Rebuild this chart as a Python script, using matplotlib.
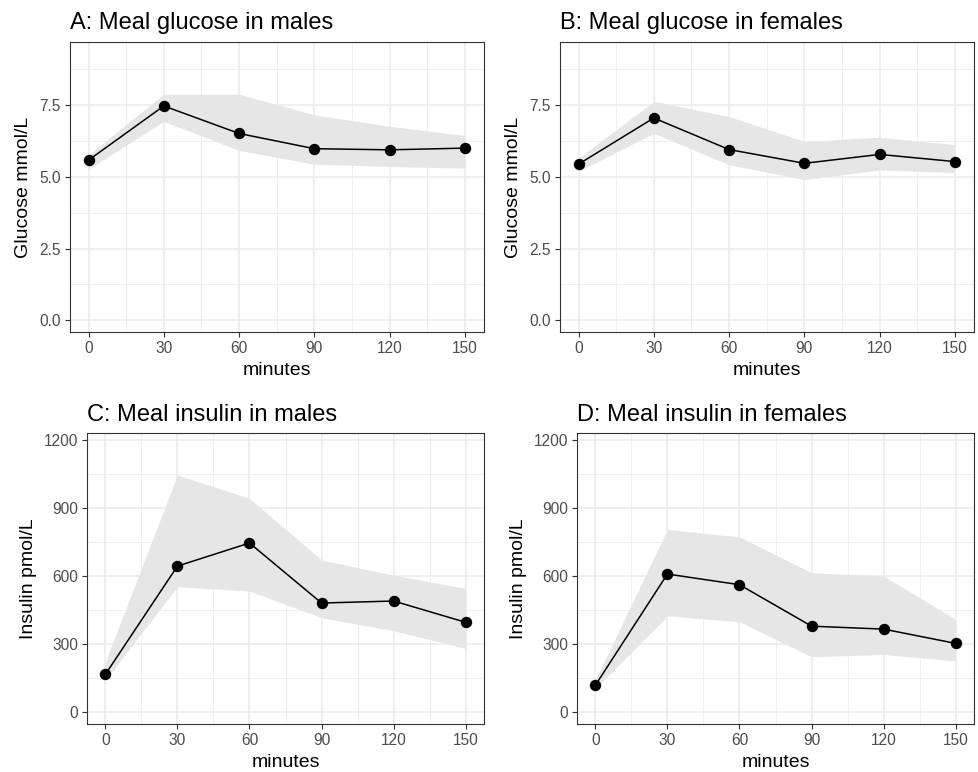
import numpy as np
import matplotlib
matplotlib.use("Agg")
import matplotlib.pyplot as plt
from matplotlib.ticker import MultipleLocator

plt.rcParams['font.family'] = ['Liberation Sans', 'DejaVu Sans']

# time points (minutes)
minutes = [0, 30, 60, 90, 120, 150]

# glucose, males
glu_m = [5.58, 7.47, 6.51, 5.98, 5.94, 6.00]
glu_m_hi = [5.77, 7.88, 7.88, 7.16, 6.76, 6.44]
glu_m_lo = [5.27, 6.93, 5.92, 5.44, 5.36, 5.30]

# glucose, females
glu_f = [5.44, 7.05, 5.95, 5.47, 5.78, 5.53]
glu_f_hi = [5.65, 7.63, 7.10, 6.23, 6.38, 6.12]
glu_f_lo = [5.19, 6.52, 5.42, 4.90, 5.24, 5.15]

# insulin, males
ins_m = [166, 644, 746, 481, 490, 396]
ins_m_hi = [222, 1046, 943, 671, 604, 546]
ins_m_lo = [141, 553, 534, 416, 359, 281]

# insulin, females
ins_f = [118, 609, 562, 379, 366, 303]
ins_f_hi = [141, 806, 773, 615, 600, 409]
ins_f_lo = [104, 424, 399, 244, 254, 225]

fig = plt.figure(figsize=(9.79, 7.72), dpi=100)


def panel(rect, title, ylabel, y, lo, hi, ylim, major, minor, fmt):
    ax = fig.add_axes(rect)
    ax.fill_between(minutes, lo, hi, color="#E6E6E6", lw=0, zorder=2)
    ax.plot(minutes, y, color="black", lw=1.1, zorder=3)
    ax.plot(minutes, y, "o", color="black", ms=7.2, zorder=4)
    ax.set_xlim(-7.5, 157.5)
    ax.set_ylim(*ylim)
    ax.set_xticks(minutes)
    ax.xaxis.set_minor_locator(MultipleLocator(15))
    ax.yaxis.set_major_locator(MultipleLocator(major))
    ax.yaxis.set_minor_locator(MultipleLocator(minor))
    ax.yaxis.set_major_formatter(fmt)
    ax.grid(which="major", color="#EBEBEB", lw=1.1, zorder=0)
    ax.grid(which="minor", color="#EBEBEB", lw=0.55, zorder=0)
    ax.set_axisbelow(True)
    ax.tick_params(which="major", length=3.5, width=0.8, color="#333333",
                   labelsize=11.2, labelcolor="#4D4D4D", pad=3)
    ax.tick_params(which="minor", length=0)
    for s in ax.spines.values():
        s.set_color("#333333")
        s.set_linewidth(0.8)
    ax.set_xlabel("minutes", fontsize=14, labelpad=4)
    ax.set_ylabel(ylabel, fontsize=14, labelpad=5)
    ax.set_title(title, loc="left", fontsize=17, pad=9)
    return ax


glu_fmt = lambda v, p: f"{v:.1f}"
ins_fmt = lambda v, p: f"{v:.0f}"

panel([0.0712, 0.5696, 0.4229, 0.3764], "A: Meal glucose in males", "Glucose mmol/L",
      glu_m, glu_m_lo, glu_m_hi, (-0.42, 9.71), 2.5, 1.25, glu_fmt)
panel([0.5717, 0.5696, 0.4229, 0.3764], "B: Meal glucose in females", "Glucose mmol/L",
      glu_f, glu_f_lo, glu_f_hi, (-0.42, 9.71), 2.5, 1.25, glu_fmt)
panel([0.0892, 0.0618, 0.4049, 0.3769], "C: Meal insulin in males", "Insulin pmol/L",
      ins_m, ins_m_lo, ins_m_hi, (-54, 1230), 300, 150, ins_fmt)
panel([0.5897, 0.0618, 0.4049, 0.3769], "D: Meal insulin in females", "Insulin pmol/L",
      ins_f, ins_f_lo, ins_f_hi, (-54, 1230), 300, 150, ins_fmt)

fig.savefig("out.png", dpi=100)
